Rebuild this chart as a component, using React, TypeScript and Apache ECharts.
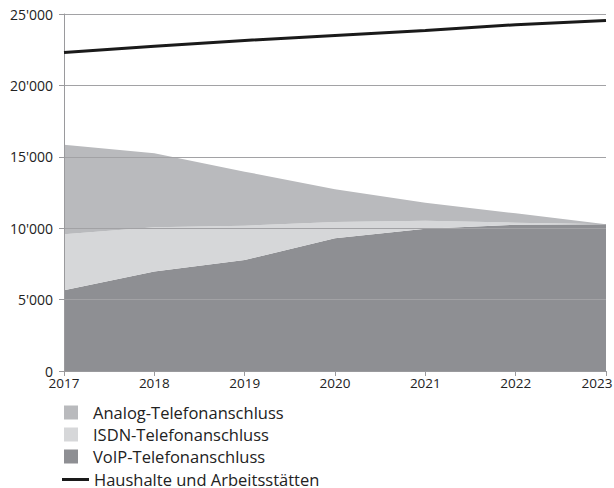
import React, { useEffect, useRef } from "react";
import * as echarts from "echarts";

const years = ["2017", "2018", "2019", "2020", "2021", "2022", "2023"];
const voip = [5650, 6960, 7770, 9290, 9970, 10250, 10270];
const isdn = [3920, 3100, 2410, 1140, 550, 140, 0];
const analog = [6280, 5180, 3780, 2290, 1270, 650, 0];
const haushalte = [22300, 22750, 23150, 23500, 23850, 24250, 24550];
const gridValues = [5000, 10000, 15000, 20000, 25000];

const FONT = "'Open Sans', 'Noto Sans', sans-serif";

export default function App() {
  const ref = useRef<HTMLDivElement>(null);
  useEffect(() => {
    if (!ref.current) return;
    const chart = echarts.init(ref.current, null, { renderer: "svg" });
    chart.setOption({
      animation: false,
      grid: {
        left: 64,
        right: 8,
        top: 14,
        bottom: 117,
        containLabel: false,
        outerBoundsMode: "none",
      },
      xAxis: {
        type: "category",
        data: years,
        boundaryGap: false,
        z: 5,
        axisLine: { lineStyle: { color: "#9a9a9d", width: 1 } },
        axisTick: { show: true, length: 5, interval: 0, lineStyle: { color: "#9a9a9d" } },
        axisLabel: {
          color: "#222",
          fontSize: 13.5,
          fontFamily: FONT,
          margin: 5,
          interval: 0,
          formatter: (v: string, i: number) =>
            i === years.length - 1 ? "{last|" + v + "}" : v,
          rich: {
            last: { color: "#222", fontSize: 13.5, fontFamily: FONT, padding: [0, 18, 0, 0] },
          },
        },
        splitLine: { show: false },
      },
      yAxis: {
        type: "value",
        min: 0,
        max: 25000,
        interval: 5000,
        z: 5,
        axisLine: { show: true, lineStyle: { color: "#9a9a9d", width: 1 } },
        axisTick: { show: true, length: 5, lineStyle: { color: "#9a9a9d" } },
        axisLabel: {
          color: "#222",
          fontSize: 14,
          fontFamily: FONT,
          margin: 11,
          formatter: (v: number) =>
            String(v).replace(/\B(?=(\d{3})+(?!\d))/g, "'"),
        },
        splitLine: { show: false },
      },
      legend: [
        {
          data: ["Analog-Telefonanschluss", "ISDN-Telefonanschluss", "VoIP-Telefonanschluss"],
          orient: "vertical",
          left: 64,
          top: 404,
          padding: 0,
          itemWidth: 14,
          itemHeight: 14,
          itemGap: 5,
          icon: "rect",
          selectedMode: false,
          textStyle: {
            color: "#222",
            fontSize: 16.5,
            fontFamily: FONT,
            padding: [0, 0, 0, 10],
          },
        },
        {
          data: ["Haushalte und Arbeitsstätten"],
          orient: "vertical",
          left: 62,
          top: 471,
          padding: 0,
          itemWidth: 27,
          itemHeight: 3,
          icon: "rect",
          selectedMode: false,
          textStyle: { color: "#222", fontSize: 16.5, fontFamily: FONT, lineHeight: 16 },
        },
      ],
      series: [
        {
          name: "VoIP-Telefonanschluss",
          type: "line",
          stack: "total",
          data: voip,
          symbol: "none",
          lineStyle: { width: 0 },
          itemStyle: { color: "#8e8f93" },
          areaStyle: { color: "#8e8f93", opacity: 1 },
        },
        {
          name: "ISDN-Telefonanschluss",
          type: "line",
          stack: "total",
          data: isdn,
          symbol: "none",
          lineStyle: { width: 0 },
          itemStyle: { color: "#d6d7d9" },
          areaStyle: { color: "#d6d7d9", opacity: 1 },
        },
        {
          name: "Analog-Telefonanschluss",
          type: "line",
          stack: "total",
          data: analog,
          symbol: "none",
          lineStyle: { width: 0 },
          itemStyle: { color: "#b9babd" },
          areaStyle: { color: "#b9babd", opacity: 1 },
          markLine: {
            silent: true,
            symbol: "none",
            label: { show: false },
            lineStyle: { color: "#a2a2a5", width: 1.2, type: "solid" },
            data: gridValues.map((v) => ({ yAxis: v })),
          },
        },
        {
          name: "Haushalte und Arbeitsstätten",
          type: "line",
          data: haushalte,
          symbol: "none",
          z: 6,
          lineStyle: { color: "#1a1a1a", width: 3 },
          itemStyle: { color: "#1a1a1a" },
        },
      ],
    });
    return () => chart.dispose();
  }, []);
  return (
    <div
      ref={ref}
      style={{ width: 614, height: 488, position: "absolute", left: 0, top: 0 }}
    />
  );
}
